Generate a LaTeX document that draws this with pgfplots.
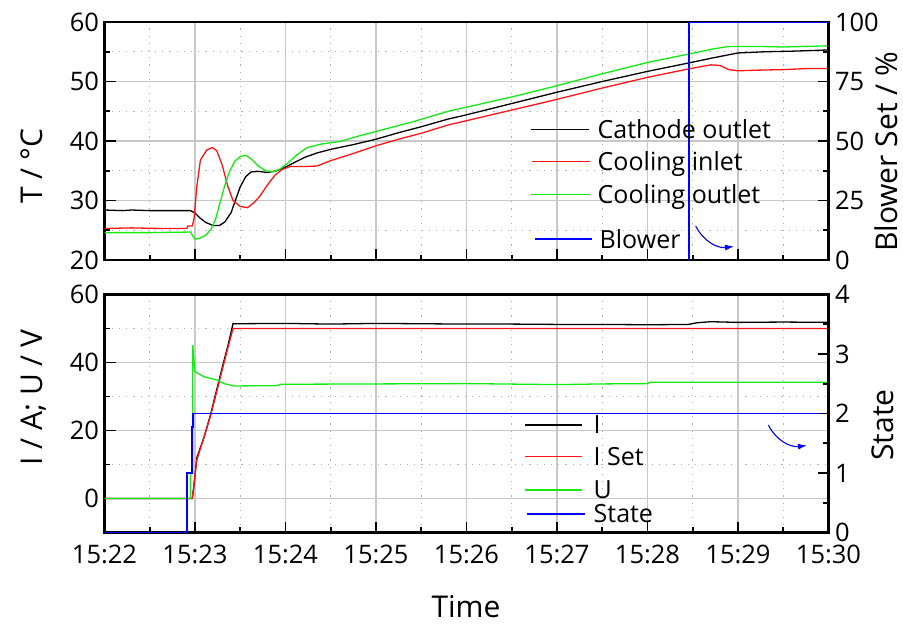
\documentclass[border=0pt]{standalone}
\usepackage{fontspec}
\setmainfont{Open Sans}
\usepackage{pgfplots}
\pgfplotsset{compat=1.18}
\usetikzlibrary{arrows.meta}

\definecolor{gmaj}{RGB}{200,200,200}
\definecolor{gmin}{RGB}{175,175,175}
\definecolor{lgreen}{RGB}{20,235,20}
\definecolor{lred}{RGB}{255,20,20}
\definecolor{lblue}{RGB}{0,0,255}

\pgfplotsset{
  panel/.style={
    scale only axis, width=724pt, height=238pt,
    xmin=0, xmax=8,
    axis line style={line width=2.4pt},
    tick style={line width=1.6pt, black},
    major tick length=11pt, minor tick length=5.5pt,
    tick align=inside,
    ticklabel style={font=\fontsize{25.5}{25.5}\selectfont},
    /pgf/number format/assume math mode=true,
    every axis plot/.append style={line width=1.3pt},
  },
  leftpanel/.style={panel,
    grid=both,
    major grid style={gmaj, line width=1.2pt},
    minor grid style={gmin, line width=1.2pt, dash pattern=on 1.2pt off 6pt},
    xtick={0,...,8}, minor x tick num=1,
    xtick pos=bottom, ytick pos=left,
    yticklabel style={xshift=-2pt},
    xticklabel style={yshift=-9pt},
  },
  rightpanel/.style={panel,
    axis y line*=right, axis x line=none,
    minor y tick num=1,
    yticklabel style={xshift=3pt},
    every axis plot/.append style={line width=1.9pt},
  },
}

% top panel data (minutes after 15:22)
\pgfplotstableread{
t T
0 28.4
0.2 28.3
0.3 28.4
0.5 28.3
0.95 28.3
1.00 27.9
1.06 27.0
1.12 26.3
1.20 25.8
1.27 25.8
1.33 26.4
1.40 28.0
1.45 30.2
1.50 32.3
1.56 34.0
1.62 34.8
1.70 34.9
1.80 34.7
1.90 35.0
2.00 35.6
2.10 36.4
2.22 37.3
2.35 38.0
2.50 38.6
2.75 39.4
3.00 40.3
3.25 41.4
3.50 42.4
3.80 43.7
4.00 44.4
4.50 46.3
5.00 48.2
5.50 50.0
6.00 51.7
6.45 53.1
6.70 53.9
7.00 54.8
7.30 55.0
7.60 55.1
8.00 55.3
}\cathode
\pgfplotstableread{
t T
0 25.3
0.3 25.4
0.6 25.3
0.91 25.3
0.92 25.7
0.97 25.7
0.99 27.0
1.02 32.3
1.06 36.8
1.13 38.5
1.19 38.9
1.24 38.4
1.30 36.0
1.36 32.5
1.42 30.0
1.50 29.0
1.58 28.8
1.65 29.6
1.72 30.8
1.80 32.6
1.88 34.2
1.96 35.2
2.05 35.7
2.20 35.7
2.35 35.8
2.50 36.7
2.75 37.9
3.00 39.2
3.25 40.3
3.50 41.3
3.80 42.7
4.50 45.2
5.00 47.0
5.50 48.9
6.00 50.7
6.45 52.1
6.70 52.8
6.80 52.7
6.90 52.0
7.00 51.8
7.20 51.9
7.50 52.0
7.80 52.2
8.00 52.2
}\coolin
\pgfplotstableread{
t T
0 24.6
0.5 24.6
0.95 24.7
0.97 24.2
1.00 23.5
1.06 23.7
1.12 24.2
1.18 25.2
1.23 27.0
1.28 29.8
1.33 32.6
1.38 34.8
1.44 36.6
1.50 37.4
1.56 37.6
1.62 37.0
1.70 35.8
1.78 35.0
1.86 34.8
1.94 35.3
2.02 36.2
2.12 37.6
2.24 38.9
2.40 39.5
2.60 39.9
2.80 40.8
3.00 41.6
3.40 43.2
3.80 45.0
4.50 47.4
5.00 49.3
5.50 51.3
6.00 53.2
6.45 54.6
6.70 55.4
6.90 55.9
7.20 55.9
7.50 55.8
8.00 56.0
}\coolout

% bottom panel data
\pgfplotstableread{
t v
0 0
0.97 0
0.985 3
1.02 12
1.10 18
1.17 24.5
1.24 32
1.31 39.5
1.36 44.5
1.42 51.4
2.0 51.5
2.5 51.3
3.0 51.5
3.5 51.4
4.0 51.3
4.5 51.3
5.0 51.2
5.5 51.2
6.0 51.1
6.45 51.2
6.55 51.7
6.7 52.0
7.0 51.8
7.5 51.9
8.0 51.8
}\curI
\pgfplotstableread{
t v
0 0
0.97 0
1.02 11.3
1.17 24.1
1.31 38.8
1.42 50
8 50
}\curIset
\pgfplotstableread{
t v
0 0
0.95 0
0.95 7.4
0.975 7.4
0.975 45.1
0.99 40
1.00 37.3
1.10 35.8
1.24 34.9
1.32 33.8
1.43 33.1
1.90 33.2
1.95 33.6
3.0 33.7
4.0 33.8
5.0 33.5
5.5 33.7
6.0 33.8
6.03 34.2
8.0 34.2
}\volt
\pgfplotstableread{
t s
0 0
0.91 0
0.91 1
0.965 1
0.965 1.78
0.98 1.78
0.98 2
7.9 2
}\state

\begin{document}
\begin{tikzpicture}
\useasboundingbox (0,0) rectangle (903pt,-627pt);

% ---- top panel ----
\begin{axis}[leftpanel, at={(104.5pt,-260pt)}, anchor=south west,
  ymin=20, ymax=60, ytick={20,30,...,60}, minor y tick num=1,
  xticklabels={}]
  \addplot[black] table[x=t, y=T] {\cathode};
  \addplot[lred] table[x=t, y=T] {\coolin};
  \addplot[lgreen] table[x=t, y=T] {\coolout};
\end{axis}
\begin{axis}[rightpanel, at={(104.5pt,-260pt)}, anchor=south west,
  ymin=0, ymax=100, ytick={0,25,...,100}]
  \addplot[lblue] coordinates {(6.46,0) (6.46,100) (8,100)};
\end{axis}

% ---- bottom panel ----
\begin{axis}[leftpanel, at={(104.5pt,-532.5pt)}, anchor=south west,
  ymin=-10, ymax=60, ytick={0,20,40,60}, minor y tick num=1,
  xticklabels={15:22,15:23,15:24,15:25,15:26,15:27,15:28,15:29,15:30}]
  \addplot[black] table[x=t, y=v] {\curI};
  \addplot[lred] table[x=t, y=v] {\curIset};
  \addplot[lgreen] table[x=t, y=v] {\volt};
\end{axis}
\begin{axis}[rightpanel, at={(104.5pt,-532.5pt)}, anchor=south west,
  ymin=0, ymax=4, ytick={0,1,2,3,4}]
  \addplot[lblue] table[x=t, y=s] {\state};
\end{axis}

% axis labels
\begin{scope}[every node/.style={font=\fontsize{30}{30}\selectfont, inner sep=0pt}]
  \node[rotate=90, anchor=base] at (42pt,-166pt) {T / °C};
  \node[rotate=90, anchor=base] at (42pt,-397.5pt) {I / A; U / V};
  \node[rotate=90, anchor=base] at (897pt,-152pt) {Blower Set / \%};
  \node[rotate=90, anchor=base] at (893pt,-425pt) {State};
  \node[anchor=base] at (466pt,-617pt) {Time};
\end{scope}

% legends
\begin{scope}[line width=1.4pt, every node/.style={font=\fontsize{25}{25}\selectfont, inner sep=0pt, anchor=base west}]
  \draw[black]  (531pt,-129.3pt) -- (589pt,-129.3pt);
  \node at (597pt,-138.2pt) {Cathode outlet};
  \draw[lred]   (532pt,-161.3pt) -- (590pt,-161.3pt);
  \node at (597pt,-170.2pt) {Cooling inlet};
  \draw[lgreen] (531pt,-194.7pt) -- (590pt,-194.7pt);
  \node at (597pt,-203.6pt) {Cooling outlet};
  \draw[lblue, line width=1.9pt] (535pt,-239.3pt) -- (592pt,-239.3pt);
  \node at (599pt,-248.2pt) {Blower};

  \draw[black]  (525pt,-425pt) -- (582pt,-425pt);
  \node at (593pt,-433.9pt) {I};
  \draw[lred]   (525pt,-456.7pt) -- (582pt,-456.7pt);
  \node at (593pt,-465.6pt) {I Set};
  \draw[lgreen] (525pt,-490pt) -- (582pt,-490pt);
  \node at (593pt,-498.9pt) {U};
  \draw[lblue, line width=1.9pt] (527pt,-514pt) -- (585pt,-514pt);
  \node at (593pt,-522.9pt) {State};
\end{scope}

% arrows pointing to the right axes
\draw[lblue, line width=1.1pt, -{Latex[length=9pt, width=6pt]}] (695.7pt,-226pt) to[bend right=35] (734pt,-246.5pt);
\draw[lblue, line width=1.1pt, -{Latex[length=9pt, width=6pt]}] (768.3pt,-425pt) to[bend right=35] (807pt,-445.5pt);
\end{tikzpicture}
\end{document}
